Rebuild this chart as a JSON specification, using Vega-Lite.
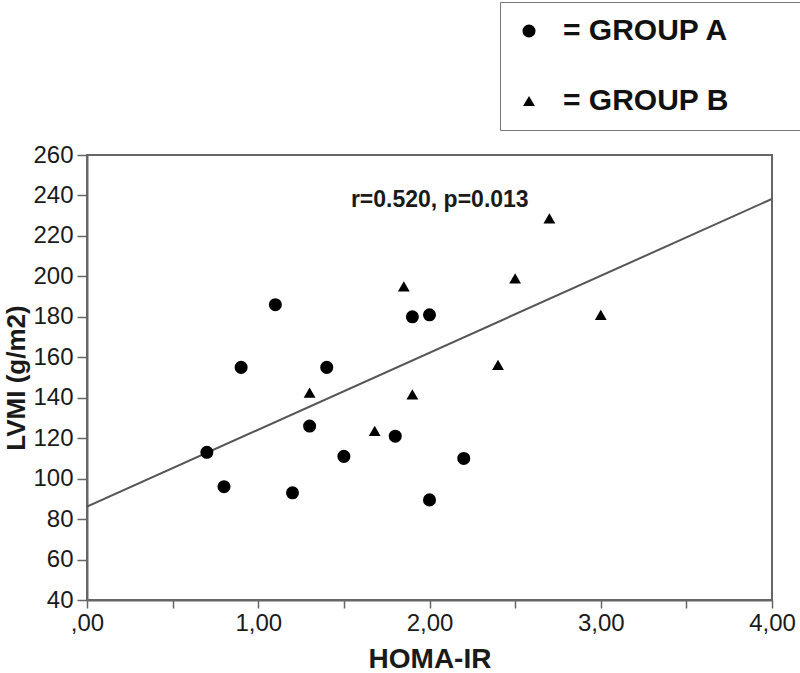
{
  "$schema": "https://vega.github.io/schema/vega-lite/v6.json",
  "autosize": {"type": "none"},
  "padding": {"left": 87, "top": 155, "right": 28, "bottom": 73},
  "width": 685,
  "height": 445,
  "background": "white",
  "config": {
    "view": {"stroke": "#666", "strokeWidth": 2},
    "font": "Liberation Sans",
    "axis": {
      "domainColor": "#666", "domainWidth": 2, "tickColor": "#666", "tickWidth": 1.5,
      "labelFont": "Liberation Sans", "labelFontSize": 24, "labelColor": "#1a1a1a",
      "titleFont": "Liberation Sans", "titleFontWeight": "bold", "titleColor": "#1a1a1a", "grid": false
    }
  },
  "datasets": {
    "points": [
      {"homa": 0.7, "lvmi": 113, "group": "GROUP A"},
      {"homa": 0.8, "lvmi": 96, "group": "GROUP A"},
      {"homa": 0.9, "lvmi": 155, "group": "GROUP A"},
      {"homa": 1.1, "lvmi": 186, "group": "GROUP A"},
      {"homa": 1.2, "lvmi": 93, "group": "GROUP A"},
      {"homa": 1.3, "lvmi": 126, "group": "GROUP A"},
      {"homa": 1.4, "lvmi": 155, "group": "GROUP A"},
      {"homa": 1.5, "lvmi": 111, "group": "GROUP A"},
      {"homa": 1.8, "lvmi": 121, "group": "GROUP A"},
      {"homa": 1.9, "lvmi": 180, "group": "GROUP A"},
      {"homa": 2.0, "lvmi": 181, "group": "GROUP A"},
      {"homa": 2.0, "lvmi": 89.5, "group": "GROUP A"},
      {"homa": 2.2, "lvmi": 110, "group": "GROUP A"},
      {"homa": 1.3, "lvmi": 142.5, "group": "GROUP B"},
      {"homa": 1.9, "lvmi": 141.7, "group": "GROUP B"},
      {"homa": 1.68, "lvmi": 123.6, "group": "GROUP B"},
      {"homa": 1.85, "lvmi": 195, "group": "GROUP B"},
      {"homa": 2.7, "lvmi": 228.7, "group": "GROUP B"},
      {"homa": 2.5, "lvmi": 199, "group": "GROUP B"},
      {"homa": 3.0, "lvmi": 181, "group": "GROUP B"},
      {"homa": 2.4, "lvmi": 156.2, "group": "GROUP B"}
    ],
    "fit": [
      {"homa": 0, "lvmi": 86.2},
      {"homa": 4, "lvmi": 238.3}
    ],
    "note": [
      {"homa": 2.06, "lvmi": 237.8, "label": "r=0.520, p=0.013"}
    ]
  },
  "layer": [
    {
      "data": {"name": "fit"},
      "mark": {"type": "line", "color": "#555", "strokeWidth": 2, "clip": true},
      "encoding": {
        "x": {"field": "homa", "type": "quantitative",
          "scale": {"domain": [0, 4], "nice": false, "zero": false},
          "axis": {
            "title": "HOMA-IR", "titleFontSize": 28, "titlePadding": 10,
            "values": [0, 0.5, 1, 1.5, 2, 2.5, 3, 3.5, 4],
            "labelExpr": "datum.value % 1 === 0 ? (datum.value === 0 ? ',00' : datum.value + ',00') : ''",
            "tickSize": 8, "labelPadding": 3, "labelFlush": false, "labelOverlap": false,
            "encode": {"ticks": {"update": {"y2": {"signal": "datum.value % 1 === 0 ? 8 : 3"}}}}
          }
        },
        "y": {"field": "lvmi", "type": "quantitative",
          "scale": {"domain": [40, 260], "nice": false, "zero": false},
          "axis": {
            "title": "LVMI (g/m2)", "titleFontSize": 26, "titlePadding": 3,
            "values": [40, 50, 60, 70, 80, 90, 100, 110, 120, 130, 140, 150, 160, 170, 180, 190, 200, 210, 220, 230, 240, 250, 260],
            "labelExpr": "datum.value % 20 === 0 ? datum.label : ''",
            "tickSize": 10, "labelPadding": 4, "labelFlush": false, "labelOverlap": false,
            "encode": {"ticks": {"update": {"x2": {"signal": "datum.value % 20 === 0 ? -10 : -4"}}}}
          }
        }
      }
    },
    {
      "data": {"name": "points"},
      "mark": {"type": "point", "filled": true, "color": "black", "opacity": 1},
      "encoding": {
        "x": {"field": "homa", "type": "quantitative"},
        "y": {"field": "lvmi", "type": "quantitative"},
        "shape": {"field": "group", "type": "nominal",
          "scale": {"domain": ["GROUP A", "GROUP B"], "range": ["circle", "triangle-up"]},
          "legend": {
            "orient": "none", "legendX": 413, "legendY": -153, "title": null,
            "strokeColor": "#777", "padding": 14,
            "labelExpr": "'= ' + datum.label + '\u2800\u2800\u2800'",
            "labelFont": "Liberation Sans", "labelFontWeight": "bold", "labelFontSize": 30, "labelColor": "#111",
            "labelOffset": 19, "rowPadding": 40, "symbolFillColor": "black", "symbolStrokeColor": "black",
            "symbolOpacity": 1, "labelLimit": 400,
            "encode": {"legend": {"update": {"strokeWidth": {"value": 2}}}}
          }
        },
        "size": {"field": "group", "type": "nominal",
          "scale": {"domain": ["GROUP A", "GROUP B"], "range": [170, 140]}
        }
      }
    },
    {
      "data": {"name": "note"},
      "mark": {"type": "text", "font": "Liberation Sans", "fontWeight": "bold", "fontSize": 23, "color": "#1a1a1a", "align": "center", "baseline": "middle"},
      "encoding": {
        "x": {"field": "homa", "type": "quantitative"},
        "y": {"field": "lvmi", "type": "quantitative"},
        "text": {"field": "label"}
      }
    }
  ]
}
